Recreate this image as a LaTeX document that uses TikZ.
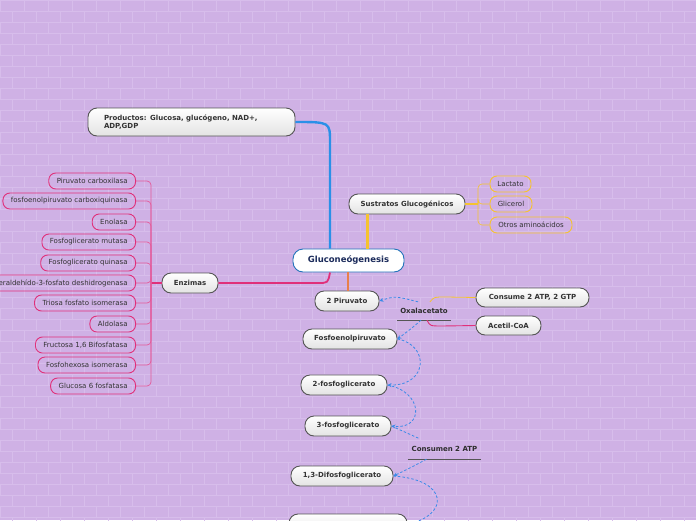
\documentclass[tikz,border=0pt]{standalone}
\usepackage{fontspec}
\setmainfont{DejaVu Sans}
\usetikzlibrary{arrows.meta,calc}
\definecolor{bg}{RGB}{207,177,229}
\definecolor{brick}{RGB}{215,189,235}
\definecolor{bluel}{RGB}{42,144,232}
\definecolor{yell}{RGB}{245,195,48}
\definecolor{pinkl}{RGB}{224,48,122}
\definecolor{pinkt}{RGB}{228,90,155}
\definecolor{oran}{RGB}{232,128,74}
\definecolor{relc}{RGB}{58,138,232}
\definecolor{txt}{RGB}{51,51,51}
\definecolor{navy}{RGB}{26,42,90}
\definecolor{bord}{RGB}{85,85,85}
\tikzset{
  topic/.style={draw=bord, line width=0.9pt, rounded corners=9pt, top color=white, bottom color=gray!22,
    font=\fontsize{7}{8.5}\selectfont\bfseries, text=txt, inner sep=0pt, minimum height=20pt},
  central/.style={draw=bluel!80!black, line width=0.9pt, rounded corners=10pt, fill=white,
    font=\fontsize{8.5}{10}\selectfont\bfseries, text=navy, inner sep=0pt, minimum width=111pt, minimum height=23pt},
  enzbox/.style={draw=pinkl, line width=0.9pt, rounded corners=7pt, anchor=east,
    font=\fontsize{7}{8.5}\selectfont, text=txt, inner xsep=8pt, inner ysep=0pt, minimum height=16pt},
  subbox/.style={draw=yell, line width=0.9pt, rounded corners=7pt,
    font=\fontsize{7}{8.5}\selectfont, text=txt, inner sep=0pt, minimum height=16pt},
  label/.style={font=\fontsize{7}{8.5}\selectfont\bfseries, text=txt!90!black, inner sep=0pt},
  rel/.style={draw=relc, dashed, dash pattern=on 2.5pt off 2pt, line width=0.8pt, -{Stealth[length=4pt,width=4pt]}},
  relplain/.style={draw=relc, dashed, dash pattern=on 2.5pt off 2pt, line width=0.8pt},
  enzline/.style={draw=pinkt, line width=0.7pt, rounded corners=4pt},
  subline/.style={draw=yell, line width=0.6pt, rounded corners=4pt}
}
\begin{document}
\begin{tikzpicture}[x=1pt,y=-1pt]
\useasboundingbox (0,0) rectangle (696,520);
\clip (0,0) rectangle (696,520);
\fill[bg] (0,0) rectangle (696,520);
% brick pattern
\foreach \r in {0,...,47}{
  \draw[brick, line width=0.5pt] (0,{\r*11}) -- (696,{\r*11});
  \pgfmathtruncatemacro{\odd}{mod(\r,2)}
  \foreach \c in {0,...,29}{
    \draw[brick, line width=0.5pt] ({\c*24+\odd*12},{\r*11}) -- ({\c*24+\odd*12},{\r*11+11});
  }
}

% nodes
\node[topic, minimum width=207pt, minimum height=28pt, text width=175pt, align=left, inner xsep=16pt] (prod) at (191.5,122) {Productos: Glucosa, glucógeno, NAD+,\\ADP,GDP};
\node[central] (glu) at (348.5,260.5) {Gluconeógenesis};
\node[topic, minimum width=116pt] (sus) at (407,204) {Sustratos Glucogénicos};
\node[subbox, minimum width=41pt] (lac) at (510.5,184) {Lactato};
\node[subbox, minimum width=42pt] (gli) at (511,204) {Glicerol};
\node[subbox, minimum width=82pt] (otr) at (531,225) {Otros aminoácidos};
\node[topic, minimum width=56pt] (enz) at (190,283) {Enzimas};

\node[enzbox] (e1) at (136,181) {Piruvato carboxilasa};
\node[enzbox] (e2) at (136,201) {fosfoenolpiruvato carboxiquinasa};
\node[enzbox] (e3) at (136,222) {Enolasa};
\node[enzbox] (e4) at (136,242) {Fosfoglicerato mutasa};
\node[enzbox] (e5) at (136,263) {Fosfoglicerato quinasa};
\node[enzbox] (e6) at (136,283) {Gliceraldehído-3-fosfato deshidrogenasa};
\node[enzbox] (e7) at (136,303) {Triosa fosfato isomerasa};
\node[enzbox] (e8) at (136,324) {Aldolasa};
\node[enzbox] (e9) at (136,345) {Fructosa 1,6 Bifosfatasa};
\node[enzbox] (e10) at (136,365) {Fosfohexosa isomerasa};
\node[enzbox] (e11) at (136,386) {Glucosa 6 fosfatasa};

\node[topic, minimum width=64pt] (pir) at (347,301) {2 Piruvato};
\node[label, minimum width=53pt, minimum height=18pt] (oxa) at (424,311) {Oxalacetato};
\node[topic, minimum width=113pt, minimum height=19pt] (cons) at (532.5,297.5) {Consume 2 ATP, 2 GTP};
\node[topic, minimum width=65pt, minimum height=19pt] (acet) at (508.5,325.5) {Acetil-CoA};
\node[topic, minimum width=94pt] (fpe) at (350,339) {Fosfoenolpiruvato};
\node[topic, minimum width=86pt] (f2) at (344,385) {2-fosfoglicerato};
\node[topic, minimum width=86pt] (f3) at (348,426) {3-fosfoglicerato};
\node[label, minimum width=73pt, minimum height=20pt] (cnsm) at (444.5,449) {Consumen 2 ATP};
\node[topic, minimum width=102pt] (dif) at (342,476) {1,3-Difosfoglicerato};
\node[topic, minimum width=118pt] (bot) at (348,524) {};

% underlines
\draw[bord, line width=0.9pt] (oxa.south west) -- (oxa.south east);
\draw[bord, line width=0.9pt] (cnsm.south west) -- (cnsm.south east);

% main branches
\draw[bluel, line width=2.4pt] (prod.east) .. controls (330,122) .. (330,142) -- (glu.north -| 330,0);
\draw[yell, line width=3pt] (sus.south -| 367,0) -- (glu.north -| 367,0);
\draw[oran, line width=2pt] (glu.south -| 348,0) -- (pir.north -| 348,0);
\draw[pinkl, line width=1.8pt] (enz.east) -- (318,283) .. controls (328,283) .. (glu.south -| 330,0);

% enzyme bracket
\draw[pinkl, line width=1.6pt] (enz.west) -- (151,283);
\foreach \e in {e1,e2,e3,e4,e5,e6,e7,e8,e9,e10,e11}{
  \draw[enzline] (\e.east) -| (151,283);
}
% substrates bracket
\draw[yell, line width=1.2pt] (sus.east) -- (478,204);
\foreach \s in {lac,gli,otr}{
  \draw[subline] (\s.west) -| (478,204);
}

% oxalacetato links
\draw[yell, line width=0.8pt] (cons.west) -- (446,297) .. controls (434,297) .. (oxa.north east -| 430,0);
\draw[pinkl, line width=0.9pt] (acet.west) -- (442,326) .. controls (430,326) .. (oxa.south -| 427,0);

% relationship arrows
\draw[rel] ($(oxa.north)+(-6,0)$) .. controls (395,296) .. (pir.east);
\draw[rel] ($(oxa.south)+(-3,0)$) .. controls (412,328) .. (fpe.east);
\draw[rel] (fpe.east) .. controls (430,345) and (428,386) .. (f2.east);
\draw[rel] (f2.east) .. controls (424,392) and (424,430) .. (f3.east);
\draw[relplain] (f3.east) .. controls (405,432) .. ($(cnsm.north west)+(12,0)$);
\draw[rel] ($(cnsm.south)+(-18,0)$) .. controls (410,468) .. (dif.east);
\draw[rel] (dif.east) .. controls (450,480) and (448,515) .. (bot.east);
\end{tikzpicture}
\end{document}
